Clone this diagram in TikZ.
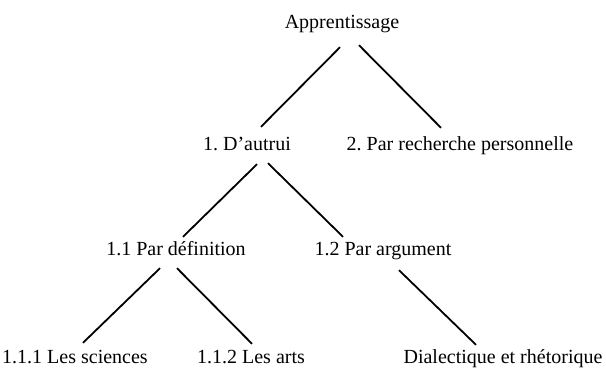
\documentclass[tikz,border=0pt]{standalone}
\usepackage{fontspec}
\setmainfont{Liberation Serif}
\usetikzlibrary{positioning}
\frenchspacing
\tikzset{
    branch/.style={line width=1.8pt},
}

\begin{document}
\begin{tikzpicture}[x=1pt, y=-1pt]
    \tikzstyle{block} = [inner sep=0pt, text height=14pt, text depth=4pt,
    font=\fontsize{20}{24}\selectfont]
    \useasboundingbox (0,0) rectangle (606,368);

    \node [block] (A0) at (342,23) {Apprentissage};

    \node [block] (A1) at (247,145) {1. D’autrui};
    \node [block] (A2) at (460,145) {2. Par recherche personnelle};

    \node [block] (A11) at (176,250) {1.1 Par définition};
    \node [block] (A12) at (383,250) {1.2 Par argument};

    \node [block] (A111) at (75,358) {1.1.1 Les sciences};
    \node [block] (A112) at (251,358) {1.1.2 Les arts};
    \node [block] (A121) at (503,358) {Dialectique et rhétorique};

    \draw [branch] ([xshift=-2pt,yshift=-15pt]A0.south) -- ([xshift=14pt,yshift=9pt]A1.north);
    \draw [branch] ([xshift=17pt,yshift=-13pt]A0.south) -- ([xshift=-19pt,yshift=8pt]A2.north);

    \draw [branch] ([xshift=10pt,yshift=-10pt]A1.south) -- ([xshift=7pt,yshift=4pt]A11.north);
    \draw [branch] ([xshift=21pt,yshift=-9pt]A1.south) -- ([xshift=-40pt,yshift=4pt]A12.north);

    \draw [branch] ([xshift=-16pt,yshift=-9pt]A11.south) -- ([xshift=8pt,yshift=6pt]A111.north);
    \draw [branch] ([xshift=1pt,yshift=-9pt]A11.south) -- ([xshift=1pt,yshift=5pt]A112.north);

    \draw [branch] ([xshift=16pt,yshift=-11pt]A12.south) -- ([xshift=-27pt,yshift=4pt]A121.north);
\end{tikzpicture}
\end{document}
